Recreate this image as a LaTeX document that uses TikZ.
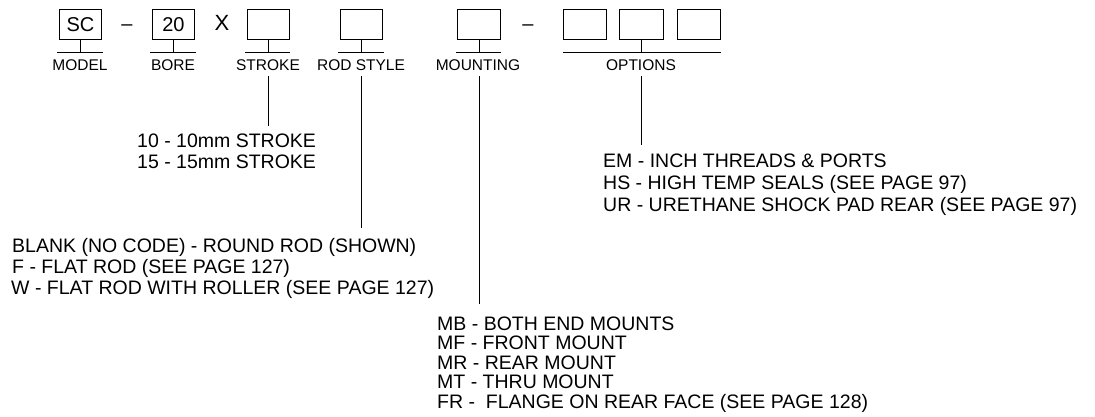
\documentclass[tikz,border=0pt]{standalone}
\usepackage{fontspec}
\setmainfont{Liberation Sans}
\begin{document}
\begin{tikzpicture}[x=1pt,y=-1pt,
  codebox/.style={draw,line width=0.9pt,minimum width=42pt,minimum height=30pt,inner sep=0pt,anchor=north west,font=\fontsize{20}{22}\selectfont},
  boxtext/.style={inner sep=0pt,anchor=base,font=\fontsize{20}{22}\selectfont},
  lbl/.style={inner sep=0pt,anchor=base,font=\fontsize{15.5}{17}\selectfont},
  desc/.style={inner sep=0pt,anchor=base west,font=\fontsize{19.5}{21}\selectfont},
  ln/.style={line width=0.9pt}]
\useasboundingbox (0,0) rectangle (1095,416);
% boxes
\node[codebox] (bSC) at (59,9) {SC};
\node[boxtext] (d1) at (127,30) {–};
\node[codebox] (b20) at (152,9) {20};
\node[inner sep=0pt,anchor=base,font=\fontsize{22}{24}\selectfont] (x) at (222,30) {X};
\node[codebox] (bST) at (247,9) {};
\node[codebox] (bRS) at (340,9) {};
\node[codebox,minimum width=43pt] (bMT) at (457,9) {};
\node[boxtext] (d2) at (528,30) {–};
\node[codebox,minimum width=43pt] (bO1) at (563,9) {};
\node[codebox,minimum width=44pt] (bO2) at (619,9) {};
\node[codebox,minimum width=43pt] (bO3) at (677,9) {};
% stems and underlines
\foreach \b/\l/\r in {bSC/57/103,b20/150/196,bST/245/290,bRS/338/384,bMT/456/501}{
  \coordinate (\b-u) at (\b.south |- 0,52);
  \draw[ln] (\b.south) -- (\b-u);
  \draw[ln] (\l,52) -- (\r,52);
}
\coordinate (bO2-u) at (bO2.south |- 0,52);
\draw[ln] (bO2.south) -- (bO2-u);
\draw[ln] (563,52) -- (721,52);
% labels
\node[lbl] (lM) at (80,70) {MODEL};
\node[lbl] (lB) at (173,70) {BORE};
\node[lbl] (lS) at (268,70) {STROKE};
\node[lbl] (lR) at (361,70) {ROD STYLE};
\node[lbl] (lMo) at (478,70) {MOUNTING};
\node[lbl] (lO) at (641,70) {OPTIONS};
% descriptions
\node[desc] (s1) at (137,147) {10 - 10mm STROKE};
\node[desc] (s2) at (137,168) {15 - 15mm STROKE};
\node[desc] (r1) at (12,252) {BLANK (NO CODE) - ROUND ROD (SHOWN)};
\node[desc] (r2) at (12,273) {F - FLAT ROD (SEE PAGE 127)};
\node[desc] (r3) at (11,294) {W - FLAT ROD WITH ROLLER (SEE PAGE 127)};
\node[desc] (m1) at (437,330) {MB - BOTH END MOUNTS};
\node[desc] (m2) at (437,349.5) {MF - FRONT MOUNT};
\node[desc] (m3) at (437,369) {MR - REAR MOUNT};
\node[desc] (m4) at (437,388.5) {MT - THRU MOUNT};
\node[desc] (m5) at (437,408) {FR -\ \ FLANGE ON REAR FACE (SEE PAGE 128)};
\node[desc] (o1) at (603,167) {EM - INCH THREADS \& PORTS};
\node[desc] (o2) at (603,189) {HS - HIGH TEMP SEALS (SEE PAGE 97)};
\node[desc] (o3) at (603,211) {UR - URETHANE SHOCK PAD REAR (SEE PAGE 97)};
% leaders
\coordinate (cS0) at (268,76); \coordinate (cS1) at (268,126);
\coordinate (cR0) at (361,76); \coordinate (cR1) at (361,228);
\coordinate (cM0) at (479,76); \coordinate (cM1) at (479,304);
\coordinate (cO0) at (641,76); \coordinate (cO1) at (641,145);
\draw[ln] (cS0) -- (cS1);
\draw[ln] (cR0) -- (cR1);
\draw[ln] (cM0) -- (cM1);
\draw[ln] (cO0) -- (cO1);
\end{tikzpicture}
\end{document}
